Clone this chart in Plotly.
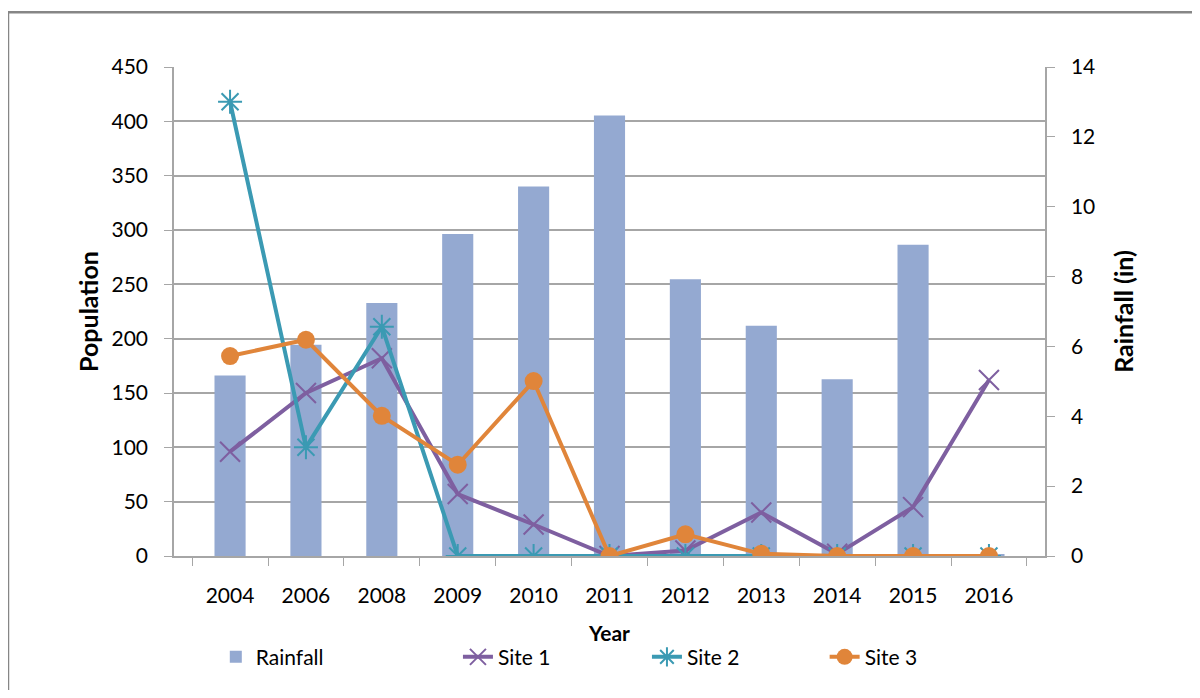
import plotly.graph_objects as go

years = ['2004', '2006', '2008', '2009', '2010', '2011', '2012', '2013', '2014', '2015', '2016']
rainfall = [5.17, 6.05, 7.24, 9.22, 10.58, 12.61, 7.92, 6.59, 5.06, 8.91, 0.05]
site1 = [96, 150, 182, 57, 29, 0, 5, 40, 2, 45, 162]
site2 = [418, 100, 211, 0, 0, 0, 0, 0, 0, 0, 0]
site3 = [184, 199, 129, 84, 161, 0, 20, 2, 0, 0, 0]

FONT = 'Lato'
GRID = '#a6a6a6'
FS = 21

fig = go.Figure()

# bars on primary axis (right side) so the lines on the overlay sit on top
fig.add_trace(go.Bar(
    x=years, y=rainfall, name='Rainfall', yaxis='y', legend='legend',
    marker=dict(color='#94a9d1', line=dict(width=0)), width=0.41
))
fig.add_trace(go.Scatter(
    x=years, y=site1, name='Site 1', yaxis='y2', mode='lines+markers', legend='legend2',
    line=dict(color='#7e5fa0', width=4),
    marker=dict(symbol='x-thin-open', size=20, line=dict(color='#7e5fa0', width=2))
))
fig.add_trace(go.Scatter(
    x=years, y=site2, name='Site 2', yaxis='y2', mode='lines+markers', legend='legend3',
    line=dict(color='#3b9ab3', width=4),
    marker=dict(symbol='asterisk-open', size=20, line=dict(color='#3b9ab3', width=2))
))
fig.add_trace(go.Scatter(
    x=years, y=site3, name='Site 3', yaxis='y2', mode='lines+markers', legend='legend4',
    line=dict(color='#e0853a', width=4),
    marker=dict(symbol='circle', size=18, color='#e0853a')
))

leg = dict(orientation='h', y=-0.207, xanchor='left', yanchor='middle',
           font=dict(size=FS), bgcolor='rgba(0,0,0,0)')

# page body has an 8px margin on every side, so the figure must fit inside it
fig.update_layout(
    width=1184, height=682,
    margin=dict(l=166, r=147, t=59, b=116),
    paper_bgcolor='white', plot_bgcolor='white',
    font=dict(family=FONT, size=FS, color='black'),
    showlegend=True,
    legend=dict(leg, x=0.048),
    legend2=dict(leg, x=0.326),
    legend3=dict(leg, x=0.543),
    legend4=dict(leg, x=0.747),
    xaxis=dict(
        type='category', showgrid=False, showline=True, linecolor=GRID, linewidth=1.5,
        ticks='outside', tickson='boundaries', ticklen=8, tickcolor=GRID, automargin=False,
        ticklabelstandoff=20,
        title=dict(text='<b>Year</b>', standoff=20, font=dict(size=FS))
    ),
    yaxis=dict(
        side='right', range=[0, 14], dtick=2, showgrid=False, zeroline=False,
        showline=True, linecolor=GRID, linewidth=1.5, ticks='outside', ticklen=8,
        tickcolor=GRID, automargin=False, ticklabelstandoff=12,
        title=dict(text='<b>Rainfall (in)</b>', standoff=21)
    ),
    yaxis2=dict(
        overlaying='y', side='left', range=[0, 450], dtick=50,
        showgrid=True, gridcolor=GRID, gridwidth=1.5, zeroline=False,
        showline=True, linecolor=GRID, linewidth=1.5, ticks='outside', ticklen=8,
        tickcolor=GRID, automargin=False, ticklabelstandoff=12,
        title=dict(text='<b>Population</b>', standoff=6)
    ),
    shapes=[dict(type='rect', xref='paper', yref='paper',
                 x0=-0.1906, x1=1.4, y0=-0.5, y1=1.112,
                 line=dict(color='#868686', width=2.5), fillcolor='rgba(0,0,0,0)', layer='below')]
)

fig.write_html('out.html')
